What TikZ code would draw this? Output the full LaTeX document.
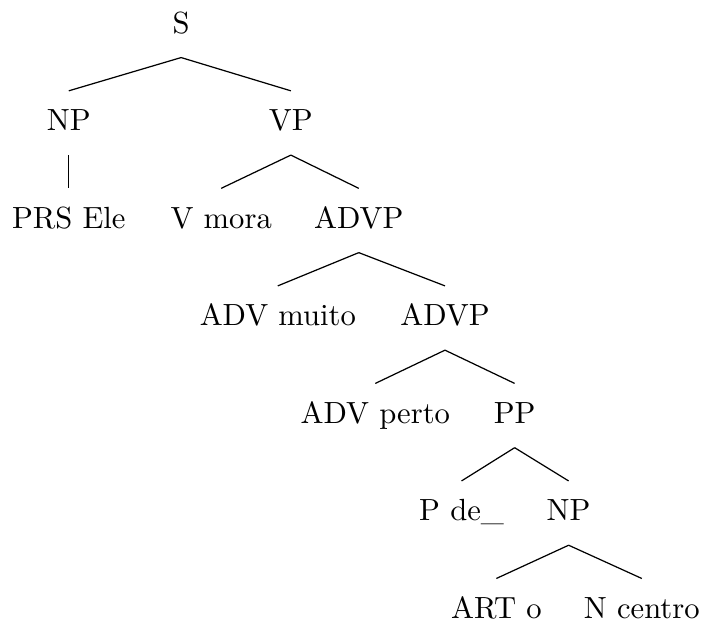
\documentclass[tikz,border=0pt]{standalone}
\begin{document}
\begin{tikzpicture}[cat/.style={anchor=base,text height=7pt,text depth=2pt,inner ysep=5.8pt}]
	\useasboundingbox (0,0) rectangle (8.05,-7.17);
	% categories, one row per level
	\node[cat] (s) at (2.08,-0.38) {S};
	\node[cat] (np) at (0.79,-1.50) {NP};
	\node[cat] (vp) at (3.34,-1.50) {VP};
	\node[cat] (prs) at (0.79,-2.62) {PRS Ele};
	\node[cat] (v) at (2.54,-2.62) {V mora};
	\node[cat] (advp) at (4.12,-2.62) {ADVP};
	\node[cat] (adva) at (3.19,-3.74) {ADV muito};
	\node[cat] (advpb) at (5.11,-3.74) {ADVP};
	\node[cat] (advb) at (4.31,-4.86) {ADV perto};
	\node[cat] (pp) at (5.91,-4.86) {PP};
	\node[cat] (p) at (5.30,-5.98) {P de\_};
	\node[cat] (npb) at (6.53,-5.98) {NP};
	\node[cat] (art) at (5.70,-7.10) {ART o};
	\node[cat] (n) at (7.37,-7.10) {N centro};
	% branches
	\draw (s.south) -- (np.north);
	\draw (s.south) -- (vp.north);
	\draw (np.south) -- (prs.north);
	\draw (vp.south) -- (v.north);
	\draw (vp.south) -- (advp.north);
	\draw (advp.south) -- (adva.north);
	\draw (advp.south) -- (advpb.north);
	\draw (advpb.south) -- (advb.north);
	\draw (advpb.south) -- (pp.north);
	\draw (pp.south) -- (p.north);
	\draw (pp.south) -- (npb.north);
	\draw (npb.south) -- (art.north);
	\draw (npb.south) -- (n.north);
\end{tikzpicture}
\end{document}
